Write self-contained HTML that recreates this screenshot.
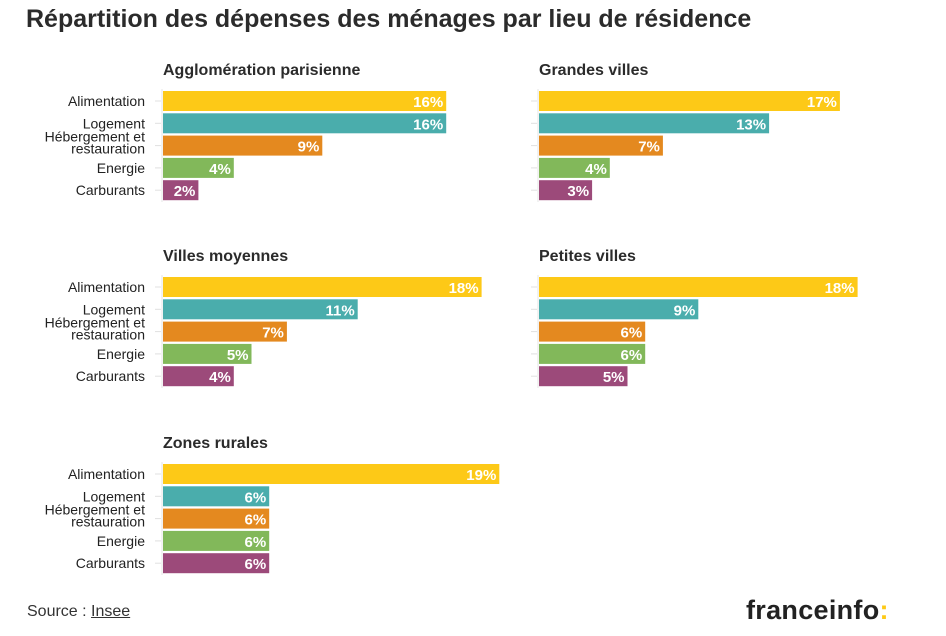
<!DOCTYPE html>
<html><head><meta charset="utf-8"><style>
body{margin:0;width:946px;height:636px;background:#fff;font-family:"Liberation Sans","DejaVu Sans",sans-serif;color:#222;overflow:hidden;position:relative}
#title{position:absolute;left:26px;top:5px;font-size:25px;font-weight:bold;color:#2b2b2b}
svg{position:absolute;left:0;top:0}
#src{position:absolute;left:27px;top:603px;font-size:16px;color:#333}
#src u{color:#333}
#logo{position:absolute;left:746px;top:595px;font-size:27px;font-weight:bold;color:#222;letter-spacing:0.3px}
#logo span{color:#fdc917}
</style></head><body>
<div id="title">Répartition des dépenses des ménages par lieu de résidence</div>
<svg id="chart" width="946" height="636"></svg>
<div id="src">Source : <u>Insee</u></div>
<div id="logo">franceinfo<span>:</span></div>
<script>
const panels = ["Agglomération parisienne","Grandes villes","Villes moyennes","Petites villes","Zones rurales"];
const categories = ["Alimentation","Logement","Hébergement et restauration","Energie","Carburants"];
const alimentation = [16,17,18,18,19];
const logement = [16,13,11,9,6];
const hebergement = [9,7,7,6,6];
const energie = [4,4,5,6,6];
const carburants = [2,3,4,5,6];
const series = [alimentation,logement,hebergement,energie,carburants];
const colors = ["#fdc917","#4aadac","#e4891f","#82b85a","#9c4a7a"];
const NS="http://www.w3.org/2000/svg";
const svg=document.getElementById('chart');
const xs=v=>v*17.7;
function mk(t,a,p){const e=document.createElementNS(NS,t);for(const k in a)e.setAttribute(k,a[k]);(p||svg).appendChild(e);return e;}
const origins=[[163,91],[539,91],[163,277],[539,277],[163,464]];
panels.forEach((name,pi)=>{
  const [ox,oy]=origins[pi];
  const g=mk('g',{});
  
  
  const t=mk('text',{x:ox,y:oy-16,'font-size':16,'font-weight':'bold',fill:'#2b2b2b'},g);t.textContent=name;
  
  
  mk('line',{x1:ox-1,x2:ox-1,y1:oy-2,y2:oy+111,stroke:'#e6e6e6','stroke-width':1},g);
  categories.forEach((c,ci)=>{
    const v=series[ci][pi];
    const y=oy+ci*22.3;
    mk('line',{x1:ox-8,x2:ox-2,y1:y+10,y2:y+10,stroke:'#e0e0e0'},g);
    if(ox<300){
      if(ci==2){
        const l1=mk('text',{x:145,y:y+6,'text-anchor':'end','font-size':14,fill:'#222'},g);l1.textContent="Hébergement et";
        const l2=mk('text',{x:145,y:y+18,'text-anchor':'end','font-size':14,fill:'#222'},g);l2.textContent="restauration";
        
        
      }else{
        const l=mk('text',{x:145,y:y+15,'text-anchor':'end','font-size':14,fill:'#222'},g);l.textContent=c;
        
      }
    }
    const r=mk('rect',{x:ox,y:y,width:xs(v),height:20,fill:colors[ci]},g);
    
    
    const vt=mk('text',{x:ox+xs(v)-3,y:y+16,'text-anchor':'end','font-size':15,'font-weight':'bold',fill:'#fff'},g);vt.textContent=v+'%';
    
    
  });
});
</script>
</body></html>
